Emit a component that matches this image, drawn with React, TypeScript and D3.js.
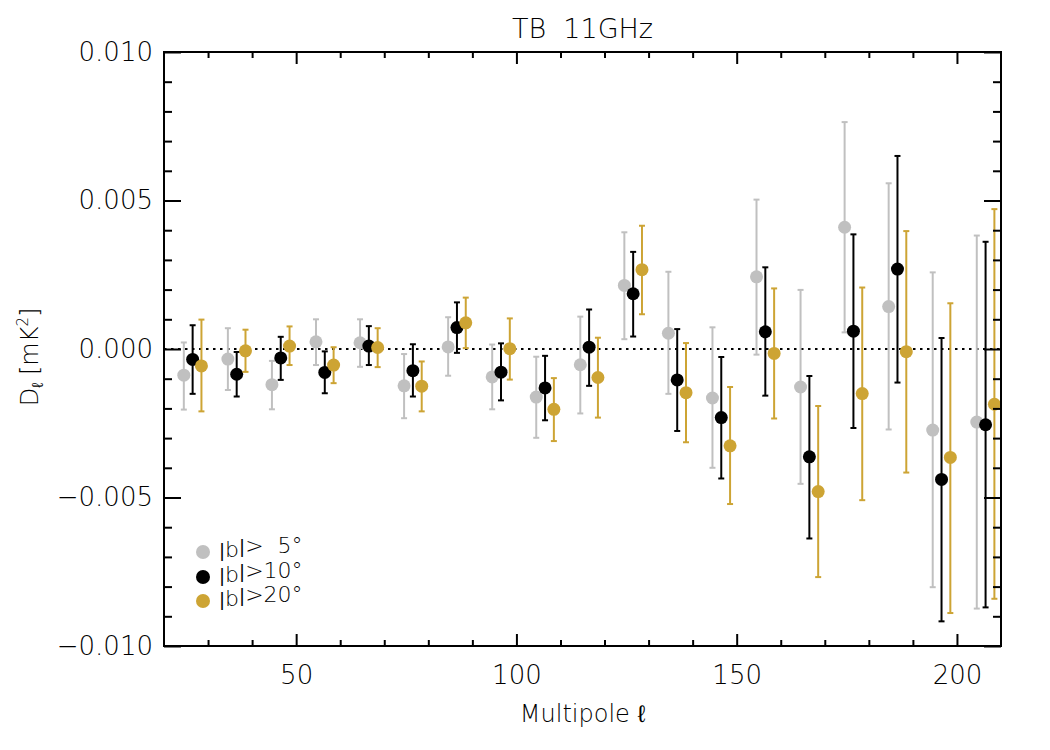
import { useEffect, useRef } from "react";
import * as d3 from "d3";

// multipole bin centres
const ells = [25, 35, 45, 55, 65, 75, 85, 95, 105, 115, 125, 135, 145, 155, 165, 175, 185, 195, 205];

// |b| > 5 deg
const b5Val = [-0.00088, -0.00034, -0.0012, 0.00024, 0.00021, -0.00124, 0.00007, -0.00094, -0.00162, -0.00053, 0.00214, 0.00053, -0.00165, 0.00243, -0.00128, 0.0041, 0.00143, -0.00273, -0.00246];
const b5Hi = [0.00022, 0.0007, -0.0004, 0.001, 0.001, -0.00017, 0.00107, 0.00015, -0.00026, 0.00109, 0.00393, 0.0026, 0.00073, 0.00503, 0.00199, 0.00764, 0.00558, 0.00258, 0.00382];
const b5Lo = [-0.00204, -0.00138, -0.00203, -0.00054, -0.0006, -0.00233, -0.0009, -0.00203, -0.00299, -0.00217, 0.00033, -0.00151, -0.004, -0.00019, -0.00454, 0.00056, -0.00271, -0.00802, -0.00874];

// |b| > 10 deg
const b10Val = [-0.00035, -0.00085, -0.0003, -0.00079, 0.0001, -0.00073, 0.00072, -0.00078, -0.00131, 0.00006, 0.00186, -0.00104, -0.00231, 0.00058, -0.00363, 0.0006, 0.00269, -0.00439, -0.00255];
const b10Hi = [0.0008, -0.0001, 0.00041, -0.00008, 0.00077, 0.00016, 0.00157, 0.00019, -0.00023, 0.00133, 0.00327, 0.00067, -0.00027, 0.00275, -0.00091, 0.00386, 0.0065, 0.00037, 0.00361];
const b10Lo = [-0.00151, -0.0016, -0.00104, -0.00149, -0.00054, -0.0016, -0.00013, -0.00173, -0.0024, -0.00124, 0.00042, -0.00276, -0.00436, -0.00157, -0.00638, -0.00266, -0.00113, -0.00917, -0.0087];

// |b| > 20 deg
const b20Val = [-0.00057, -0.00006, 0.0001, -0.00054, 0.00005, -0.00125, 0.00088, 0.00001, -0.00203, -0.00096, 0.00267, -0.00147, -0.00326, -0.00015, -0.0048, -0.0015, -0.00009, -0.00365, -0.00186];
const b20Hi = [0.00099, 0.00065, 0.00076, 0.00006, 0.0007, -0.00042, 0.00173, 0.00103, -0.00098, 0.00038, 0.00415, 0.0002, -0.00128, 0.00204, -0.00192, 0.00207, 0.00397, 0.00154, 0.00471];
const b20Lo = [-0.0021, -0.00077, -0.00054, -0.00115, -0.00061, -0.0021, 0.00003, -0.00103, -0.0031, -0.00231, 0.00117, -0.00314, -0.00522, -0.00234, -0.00768, -0.00509, -0.00416, -0.00889, -0.00841];

// legend thresholds (shown as |b|>NN°)
const legendCuts = ["\u20075", "10", "20"];
const xTicks = [50, 100, 150, 200];
const yTicks = [-0.01, -0.005, 0, 0.005, 0.01];

const FONT = "'DejaVu Sans', sans-serif";

const App = () => {
  const ref = useRef<SVGSVGElement>(null);

  useEffect(() => {
    const svg = d3.select(ref.current);
    svg.selectAll("*").remove();

    const left = 164, right = 1001, top = 52, bottom = 646;

    const x = d3.scaleLinear().domain([20, 210]).range([left, right]);
    const y = d3.scaleLinear().domain([-0.01, 0.01]).range([bottom, top]);

    const series = [
      { val: b5Val, hi: b5Hi, lo: b5Lo, color: "#c0c0c0", shift: -0.5 },
      { val: b10Val, hi: b10Hi, lo: b10Lo, color: "#000000", shift: 1.5 },
      { val: b20Val, hi: b20Hi, lo: b20Lo, color: "#cda434", shift: 3.5 },
    ];

    // title
    svg.append("text")
      .attr("x", (left + right) / 2)
      .attr("y", 38)
      .attr("text-anchor", "middle")
      .attr("font-family", FONT)
      .attr("font-weight", 200)
      .attr("font-size", 27)
      .style("white-space", "pre")
      .text("TB  11GHz");

    // zero line
    svg.append("line")
      .attr("x1", left).attr("x2", right)
      .attr("y1", y(0)).attr("y2", y(0))
      .attr("stroke", "#000")
      .attr("stroke-width", 2)
      .attr("stroke-dasharray", "2.5,4.5");

    // points with error bars
    series.forEach((s) => {
      const g = svg.append("g");
      const cap = 3;
      ells.forEach((l, i) => {
        const cx = x(l + s.shift);
        g.append("line")
          .attr("x1", cx).attr("x2", cx)
          .attr("y1", y(s.lo[i])).attr("y2", y(s.hi[i]))
          .attr("stroke", s.color).attr("stroke-width", 2);
        [s.lo[i], s.hi[i]].forEach((v) => {
          g.append("line")
            .attr("x1", cx - cap).attr("x2", cx + cap)
            .attr("y1", y(v)).attr("y2", y(v))
            .attr("stroke", s.color).attr("stroke-width", 2);
        });
        g.append("circle")
          .attr("cx", cx)
          .attr("cy", y(s.val[i]))
          .attr("r", 6.5)
          .attr("fill", s.color);
      });
    });

    // axes: ticks on all four sides, pointing inward
    const fmt = d3.format(".3f");
    const minorX = d3.range(30, 210, 10).filter((v) => v % 50 !== 0);
    const minorY = d3.range(-9, 10, 1).filter((v) => v % 5 !== 0).map((v) => v / 1000);

    const styleAxis = (g: any, labels: boolean) => {
      g.select(".domain").remove();
      g.selectAll(".tick line").attr("stroke", "#000").attr("stroke-width", 2);
      g.selectAll(".tick text")
        .attr("font-family", FONT)
        .attr("font-weight", 200)
        .attr("font-size", 26)
        .attr("fill", "#000");
      if (!labels) g.selectAll(".tick text").remove();
    };

    const addAxis = (axis: any, tx: number, ty: number, labels: boolean) => {
      const g = svg.append("g").attr("transform", `translate(${tx},${ty})`).call(axis);
      styleAxis(g, labels);
    };

    addAxis(d3.axisBottom(x).tickValues(xTicks).tickSize(-12).tickPadding(20).tickFormat(d3.format("d")), 0, bottom, true);
    addAxis(d3.axisBottom(x).tickValues(minorX).tickSize(-6), 0, bottom, false);
    addAxis(d3.axisTop(x).tickValues(xTicks).tickSize(-12), 0, top, false);
    addAxis(d3.axisTop(x).tickValues(minorX).tickSize(-6), 0, top, false);

    addAxis(d3.axisLeft(y).tickValues(yTicks).tickSize(-17).tickPadding(11).tickFormat((d: any) => fmt(d)), left, 0, true);
    addAxis(d3.axisLeft(y).tickValues(minorY).tickSize(-8), left, 0, false);
    addAxis(d3.axisRight(y).tickValues(yTicks).tickSize(-17), right, 0, false);
    addAxis(d3.axisRight(y).tickValues(minorY).tickSize(-8), right, 0, false);

    // frame
    svg.append("rect")
      .attr("x", left).attr("y", top)
      .attr("width", right - left).attr("height", bottom - top)
      .attr("fill", "none")
      .attr("stroke", "#000")
      .attr("stroke-width", 2);

    // x label
    svg.append("text")
      .attr("x", (left + right) / 2)
      .attr("y", 722)
      .attr("text-anchor", "middle")
      .attr("font-family", FONT)
      .attr("font-weight", 200)
      .attr("font-size", 24)
      .text("Multipole ℓ");

    // y label
    const yl = svg.append("text")
      .attr("transform", `translate(38,${(top + bottom) / 2 + 8}) rotate(-90)`)
      .attr("text-anchor", "middle")
      .attr("font-family", FONT)
      .attr("font-weight", 200)
      .attr("font-size", 24)
      .style("white-space", "pre");
    yl.append("tspan").text("D");
    yl.append("tspan").attr("font-size", 16).attr("dy", 5).text("ℓ");
    yl.append("tspan").attr("dy", -5).text(" [mK");
    yl.append("tspan").attr("font-size", 15).attr("dy", -10).text("2");
    yl.append("tspan").attr("dy", 10).text("]");

    // legend; the bar glyph is drawn smaller so it stays within cap height
    const legY = [552, 577, 601];
    series.forEach((s, i) => {
      svg.append("circle")
        .attr("cx", 203).attr("cy", legY[i])
        .attr("r", 7).attr("fill", s.color);
      const t = svg.append("text")
        .attr("x", 219).attr("y", legY[i] + 8)
        .attr("font-family", FONT)
        .attr("font-weight", 200)
        .attr("font-size", 22)
        .attr("fill", "#000")
        .style("white-space", "pre");
      const bar = (sel: any) => {
        sel.append("tspan").attr("font-size", 18).attr("font-weight", 400).attr("dy", -3.5).text("|");
        sel.append("tspan").attr("dy", 3.5).text("");
      };
      bar(t);
      t.append("tspan").text("b");
      bar(t);
      t.append("tspan").text(">" + legendCuts[i] + "°");
    });
  }, []);

  return (
    <svg
      ref={ref}
      width={1050}
      height={750}
      style={{ position: "absolute", left: 0, top: 0, background: "#fff" }}
    />
  );
};

export default App;
